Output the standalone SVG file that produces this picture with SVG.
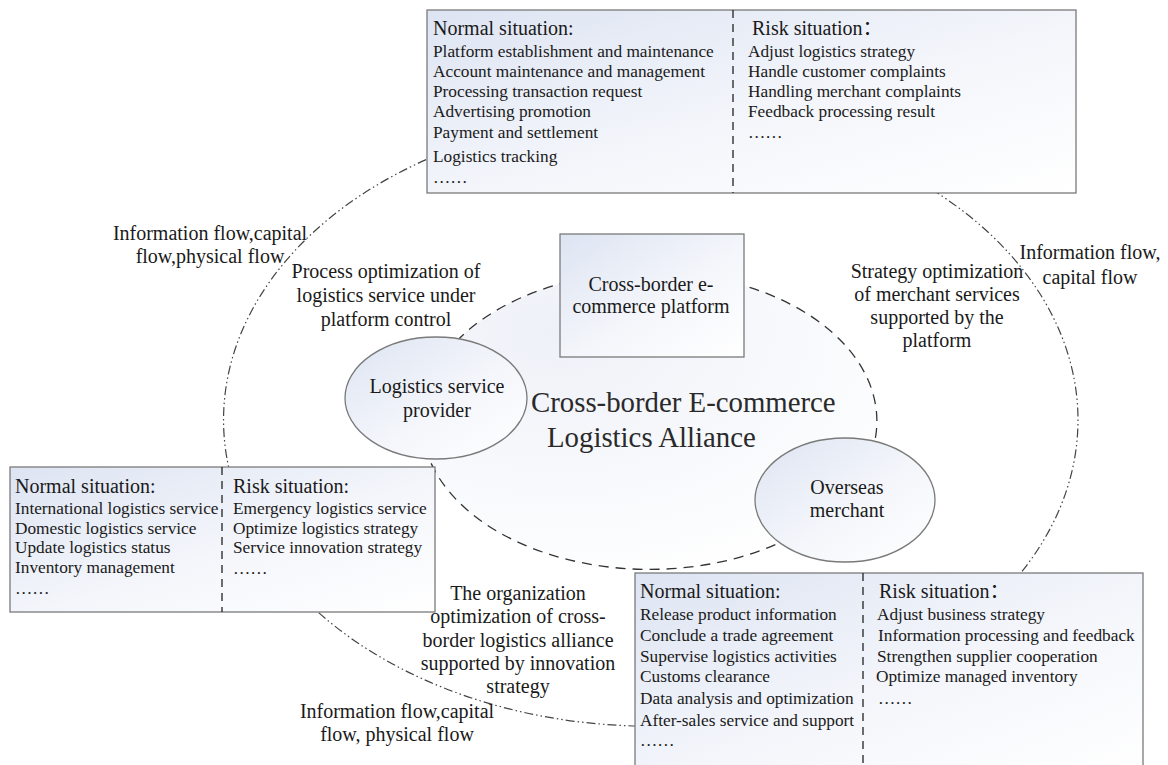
<svg xmlns="http://www.w3.org/2000/svg" width="1168" height="765" viewBox="0 0 1168 765">
<defs>
<linearGradient id="g" x1="0" y1="0" x2="1" y2="1">
<stop offset="0" stop-color="#dde4f2"/>
<stop offset="0.55" stop-color="#f4f6fb"/>
<stop offset="1" stop-color="#ffffff"/>
</linearGradient>
<radialGradient id="gi" cx="0.3" cy="0.2" r="0.9">
<stop offset="0" stop-color="#eef1f8"/>
<stop offset="1" stop-color="#ffffff"/>
</radialGradient>
<style>
.box{fill:url(#g);stroke:#7a7a7a;stroke-width:1.3}
.div{stroke:#222;stroke-width:1.3;stroke-dasharray:8 6;fill:none}
.t{font-family:"Liberation Serif","Times New Roman","Noto Sans CJK SC",serif;fill:#1a1a1a}
.h{font-size:20px}
.i{font-size:17.3px}
.a{font-size:20px;text-anchor:middle}
.c{text-anchor:middle}
.inner{fill:none;stroke:#333;stroke-width:1.3;stroke-dasharray:10 7}
.outer{fill:none;stroke:#444;stroke-width:1.2;stroke-dasharray:9 3 1.5 3 1.5 3}
</style>
</defs>
<rect width="1168" height="765" fill="#ffffff"/>
<ellipse cx="649" cy="421" rx="228" ry="149" fill="url(#gi)" stroke="none"/>
<g id="connectors">
<path class="outer" d="M651,114 A427,306 0 0,0 230,473"/>
<path class="outer" d="M651,114 A427,306 0 0,1 864.5,685"/>
<path class="outer" d="M230,473 A427,306 0 0,0 864.5,685"/>
<path class="inner" d="M436,368 A228,149 0 0,1 649,272"/>
<path class="inner" d="M649,272 A228,149 0 0,1 845,497"/>
<path class="inner" d="M845,497 A228,149 0 0,1 436,368"/>
</g>
<g id="platform-tasks">
<rect class="box" x="427" y="10" width="649" height="183"/>
<line class="div" x1="733" y1="10" x2="733" y2="193"/>
<g class="t">
<text class="h" x="433" y="35">Normal situation:</text>
<text class="i" x="433" y="57">Platform establishment and maintenance</text>
<text class="i" x="433" y="77">Account maintenance and management</text>
<text class="i" x="433" y="97">Processing transaction request</text>
<text class="i" x="433" y="117">Advertising promotion</text>
<text class="i" x="433" y="138">Payment and settlement</text>
<text class="i" x="433" y="162">Logistics tracking</text>
<text class="i" x="433" y="183">……</text>
<text class="h" x="752" y="35">Risk situation：</text>
<text class="i" x="748" y="57">Adjust logistics strategy</text>
<text class="i" x="748" y="77">Handle customer complaints</text>
<text class="i" x="748" y="97">Handling merchant complaints</text>
<text class="i" x="748" y="117">Feedback processing result</text>
<text class="i" x="748" y="138">……</text>
</g>
</g>
<g id="logistics-tasks">
<rect class="box" x="10" y="467" width="425" height="145"/>
<line class="div" x1="222" y1="467" x2="222" y2="612"/>
<g class="t">
<text class="h" x="15" y="493">Normal situation:</text>
<text class="i" x="15" y="514">International logistics service</text>
<text class="i" x="15" y="534">Domestic logistics service</text>
<text class="i" x="15" y="553">Update logistics status</text>
<text class="i" x="15" y="573">Inventory management</text>
<text class="i" x="15" y="594">……</text>
<text class="h" x="233" y="493">Risk situation:</text>
<text class="i" x="233" y="514">Emergency logistics service</text>
<text class="i" x="233" y="534">Optimize logistics strategy</text>
<text class="i" x="233" y="553">Service innovation strategy</text>
<text class="i" x="233" y="574">……</text>
</g>
</g>
<g id="merchant-tasks">
<rect class="box" x="635" y="573" width="508" height="200"/>
<line class="div" x1="863" y1="573" x2="863" y2="765"/>
<g class="t">
<text class="h" x="640" y="598">Normal situation:</text>
<text class="i" x="640" y="620">Release product information</text>
<text class="i" x="640" y="641">Conclude a trade agreement</text>
<text class="i" x="640" y="662">Supervise logistics activities</text>
<text class="i" x="640" y="682">Customs clearance</text>
<text class="i" x="640" y="704">Data analysis and optimization</text>
<text class="i" x="640" y="726">After-sales service and support</text>
<text class="i" x="640" y="746">……</text>
<text class="h" x="879" y="598">Risk situation：</text>
<text class="i" x="877" y="620">Adjust business strategy</text>
<text class="i" x="878" y="641">Information processing and feedback</text>
<text class="i" x="877" y="662">Strengthen supplier cooperation</text>
<text class="i" x="876" y="682">Optimize managed inventory</text>
<text class="i" x="878" y="704">……</text>
</g>
</g>
<g id="platform">
<rect class="box" x="560" y="234" width="184" height="123"/>
<text class="t h c" x="651" y="291">Cross-border e-</text>
<text class="t h c" x="651" y="313">commerce platform</text>
</g>
<g id="logistics-provider">
<ellipse class="box" cx="436" cy="398" rx="91" ry="61"/>
<text class="t h c" x="437" y="393">Logistics service</text>
<text class="t h c" x="437" y="417">provider</text>
</g>
<g id="overseas-merchant">
<ellipse class="box" cx="845" cy="500" rx="90" ry="62"/>
<text class="t h c" x="847" y="494">Overseas</text>
<text class="t h c" x="847" y="517">merchant</text>
</g>
<g id="alliance-label" class="t" style="font-size:28.8px;fill:#2a2a2a">
<text x="531" y="412">Cross-border E-commerce</text>
<text x="547" y="447">Logistics Alliance</text>
</g>
<g id="labels" class="t a">
<text x="210" y="240">Information flow,capital</text>
<text x="210" y="263">flow,physical flow</text>
<text x="386" y="278">Process optimization of</text>
<text x="386" y="302">logistics service under</text>
<text x="386" y="326">platform control</text>
<text x="937" y="278">Strategy optimization</text>
<text x="937" y="301">of merchant services</text>
<text x="937" y="324">supported by the</text>
<text x="937" y="347">platform</text>
<text x="1090" y="259">Information flow,</text>
<text x="1090" y="284">capital flow</text>
<text x="518" y="600">The organization</text>
<text x="518" y="623">optimization of cross-</text>
<text x="518" y="647">border logistics alliance</text>
<text x="518" y="670">supported by innovation</text>
<text x="518" y="693">strategy</text>
<text x="397" y="718">Information flow,capital</text>
<text x="397" y="741">flow, physical flow</text>
</g>
</svg>
